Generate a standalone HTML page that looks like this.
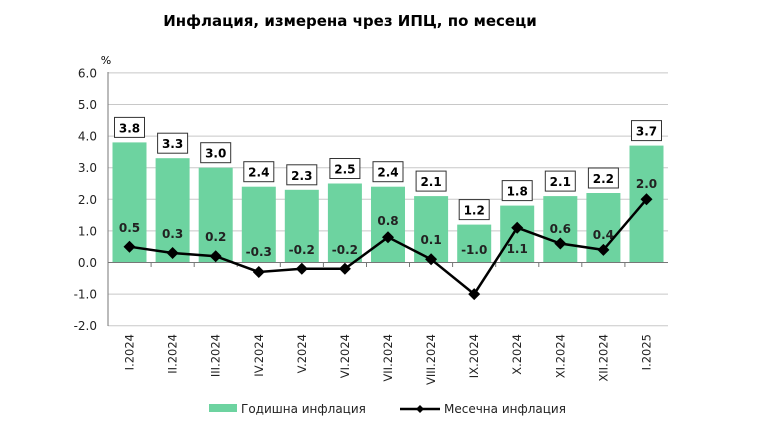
<!DOCTYPE html><html><head><meta charset="utf-8"><style>body{margin:0;background:#fff}svg{display:block}text{font-family:"DejaVu Sans","Liberation Sans",sans-serif}</style></head><body>
<svg width="768" height="432" xmlns="http://www.w3.org/2000/svg">
<text x="350" y="26" font-size="15" font-weight="bold" text-anchor="middle" fill="#000">Инфлация, измерена чрез ИПЦ, по месеци</text>
<text x="106" y="64" font-size="11" text-anchor="middle">%</text>
<g stroke="#c8c8c8">
<line x1="108" x2="668" y1="72.9" y2="72.9"/><line x1="108" x2="668" y1="104.5" y2="104.5"/><line x1="108" x2="668" y1="136.1" y2="136.1"/><line x1="108" x2="668" y1="167.7" y2="167.7"/><line x1="108" x2="668" y1="199.3" y2="199.3"/><line x1="108" x2="668" y1="230.9" y2="230.9"/><line x1="108" x2="668" y1="294.1" y2="294.1"/><line x1="108" x2="668" y1="325.7" y2="325.7"/>
</g>
<g font-size="12" text-anchor="end" fill="#222">
<text x="97" y="77.4">6.0</text><text x="97" y="109">5.0</text><text x="97" y="140.6">4.0</text><text x="97" y="172.2">3.0</text><text x="97" y="203.8">2.0</text><text x="97" y="235.4">1.0</text><text x="97" y="267">0.0</text><text x="97" y="298.6">-1.0</text><text x="97" y="330.2">-2.0</text>
</g>
<g fill="#6dd3a0">
<rect x="112.5" y="142.4" width="34" height="120.1"/><rect x="155.6" y="158.2" width="34" height="104.3"/><rect x="198.7" y="167.7" width="34" height="94.8"/><rect x="241.8" y="186.7" width="34" height="75.8"/><rect x="284.8" y="189.8" width="34" height="72.7"/><rect x="327.9" y="183.5" width="34" height="79"/><rect x="371" y="186.7" width="34" height="75.8"/><rect x="414.1" y="196.1" width="34" height="66.4"/><rect x="457.2" y="224.6" width="34" height="37.9"/><rect x="500.2" y="205.6" width="34" height="56.9"/><rect x="543.3" y="196.1" width="34" height="66.4"/><rect x="586.4" y="193" width="34" height="69.5"/><rect x="629.5" y="145.6" width="34" height="116.9"/>
</g>
<g fill="#fff" stroke="#333">
<rect x="114.5" y="117.4" width="30" height="20"/><rect x="157.6" y="133.2" width="30" height="20"/><rect x="200.7" y="142.7" width="30" height="20"/><rect x="243.8" y="161.7" width="30" height="20"/><rect x="286.8" y="164.8" width="30" height="20"/><rect x="329.9" y="158.5" width="30" height="20"/><rect x="373" y="161.7" width="30" height="20"/><rect x="416.1" y="171.1" width="30" height="20"/><rect x="459.2" y="199.6" width="30" height="20"/><rect x="502.2" y="180.6" width="30" height="20"/><rect x="545.3" y="171.1" width="30" height="20"/><rect x="588.4" y="168" width="30" height="20"/><rect x="631.5" y="120.6" width="30" height="20"/>
</g>
<g font-size="12" font-weight="bold" text-anchor="middle" fill="#000">
<text x="129.5" y="132.4">3.8</text><text x="172.6" y="148.2">3.3</text><text x="215.7" y="157.7">3.0</text><text x="258.8" y="176.7">2.4</text><text x="301.8" y="179.8">2.3</text><text x="344.9" y="173.5">2.5</text><text x="388" y="176.7">2.4</text><text x="431.1" y="186.1">2.1</text><text x="474.2" y="214.6">1.2</text><text x="517.2" y="195.6">1.8</text><text x="560.3" y="186.1">2.1</text><text x="603.4" y="183">2.2</text><text x="646.5" y="135.6">3.7</text>
</g>
<g font-size="12" font-weight="bold" text-anchor="middle" fill="#222">
<text x="129.5" y="232">0.5</text><text x="172.6" y="238">0.3</text><text x="215.7" y="241">0.2</text><text x="258.8" y="256">-0.3</text><text x="301.8" y="254">-0.2</text><text x="344.9" y="254">-0.2</text><text x="388" y="225">0.8</text><text x="431.1" y="244">0.1</text><text x="474.2" y="254">-1.0</text><text x="517.2" y="253">1.1</text><text x="560.3" y="233">0.6</text><text x="603.4" y="239">0.4</text><text x="646.5" y="188">2.0</text>
</g>
<g stroke="#777">
<line x1="108" x2="108" y1="72" y2="326"/><line x1="108" x2="668" y1="262.5" y2="262.5"/>
<line x1="151.1" x2="151.1" y1="262.5" y2="267"/><line x1="194.2" x2="194.2" y1="262.5" y2="267"/><line x1="237.2" x2="237.2" y1="262.5" y2="267"/><line x1="280.3" x2="280.3" y1="262.5" y2="267"/><line x1="323.4" x2="323.4" y1="262.5" y2="267"/><line x1="366.5" x2="366.5" y1="262.5" y2="267"/><line x1="409.5" x2="409.5" y1="262.5" y2="267"/><line x1="452.6" x2="452.6" y1="262.5" y2="267"/><line x1="495.7" x2="495.7" y1="262.5" y2="267"/><line x1="538.8" x2="538.8" y1="262.5" y2="267"/><line x1="581.8" x2="581.8" y1="262.5" y2="267"/><line x1="624.9" x2="624.9" y1="262.5" y2="267"/>
</g>
<polyline points="129.5,246.7 172.6,253 215.7,256.2 258.8,272 301.8,268.8 344.9,268.8 388,237.2 431.1,259.3 474.2,294.1 517.2,227.7 560.3,243.5 603.4,249.9 646.5,199.3" fill="none" stroke="#000" stroke-width="2.5"/>
<g fill="#000">
<path d="M129.5 240.7l6 6-6 6-6-6z"/><path d="M172.6 247l6 6-6 6-6-6z"/><path d="M215.7 250.2l6 6-6 6-6-6z"/><path d="M258.8 266l6 6-6 6-6-6z"/><path d="M301.8 262.8l6 6-6 6-6-6z"/><path d="M344.9 262.8l6 6-6 6-6-6z"/><path d="M388 231.2l6 6-6 6-6-6z"/><path d="M431.1 253.3l6 6-6 6-6-6z"/><path d="M474.2 288.1l6 6-6 6-6-6z"/><path d="M517.2 221.7l6 6-6 6-6-6z"/><path d="M560.3 237.5l6 6-6 6-6-6z"/><path d="M603.4 243.9l6 6-6 6-6-6z"/><path d="M646.5 193.3l6 6-6 6-6-6z"/>
</g>
<g font-size="11.5" text-anchor="end" fill="#222">
<text transform="translate(133.5,334) rotate(-90)">I.2024</text><text transform="translate(176.6,334) rotate(-90)">II.2024</text><text transform="translate(219.7,334) rotate(-90)">III.2024</text><text transform="translate(262.8,334) rotate(-90)">IV.2024</text><text transform="translate(305.8,334) rotate(-90)">V.2024</text><text transform="translate(348.9,334) rotate(-90)">VI.2024</text><text transform="translate(392,334) rotate(-90)">VII.2024</text><text transform="translate(435.1,334) rotate(-90)">VIII.2024</text><text transform="translate(478.2,334) rotate(-90)">IX.2024</text><text transform="translate(521.2,334) rotate(-90)">X.2024</text><text transform="translate(564.3,334) rotate(-90)">XI.2024</text><text transform="translate(607.4,334) rotate(-90)">XII.2024</text><text transform="translate(650.5,334) rotate(-90)">I.2025</text>
</g>
<rect x="209" y="404" width="28" height="8" fill="#6dd3a0"/><text x="241" y="413" font-size="12" fill="#222">Годишна инфлация</text>
<line x1="400" x2="440" y1="409" y2="409" stroke="#000" stroke-width="2.5"/><path d="M420 405l4 4-4 4-4-4z"/><text x="444" y="413" font-size="12" fill="#222">Месечна инфлация</text>
</svg></body></html>
